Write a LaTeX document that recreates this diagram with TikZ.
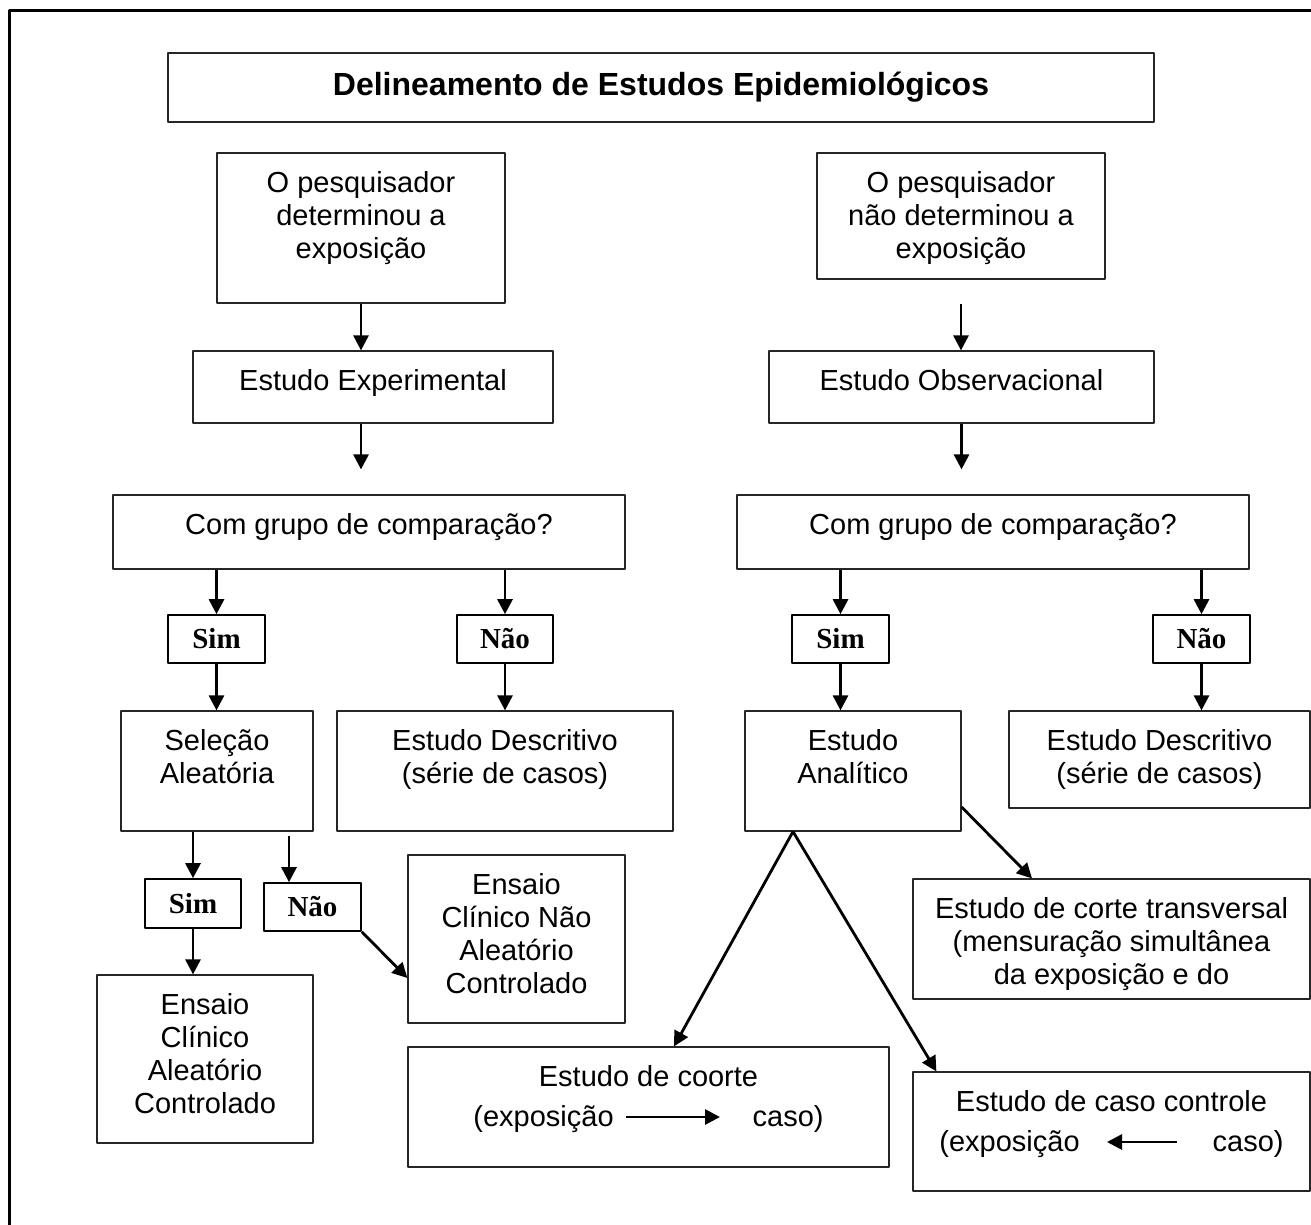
\documentclass[tikz,border=0pt]{standalone}
\usepackage{fontspec}
\setmainfont{Liberation Sans}
\newfontfamily\serifbf{Liberation Serif}
\usetikzlibrary{arrows.meta}
% text at the top of a box of fixed height
\newcommand{\toptext}[2]{\vbox to #1{\vskip 8pt\hbox{\begin{tabular}{@{}c@{}}#2\end{tabular}}\vfil}}
\begin{document}
\begin{tikzpicture}[x=0.5pt,y=-0.5pt,>={Triangle[length=7.5pt,width=7.5pt]},line join=round,
	box/.style={draw=black!85,line width=0.6pt,inner sep=0pt,font=\fontsize{14.5}{16.5}\selectfont},
	sz/.style 2 args={minimum width=#1*0.5pt,minimum height=#2*0.5pt},
	choice/.style={draw,line width=0.8pt,inner sep=0pt,font=\serifbf\bfseries\fontsize{14.5}{16.5}\selectfont},
	arr/.style={->,line width=1.4pt}]
		\useasboundingbox (0,0) rectangle (1311,1225);
		\draw[line width=1.5pt] (9,1225)--(9,11)--(1311,11);
		\node[box,sz={986}{69},font=\bfseries\fontsize{16}{19}\selectfont] (titulo) at (661,87.5) {Delineamento de Estudos Epidemiológicos};
		% left branch
		\node[box,sz={288}{150}] (detA) at (361,228) {\toptext{75pt}{O pesquisador\\determinou a\\exposição}};
		\node[box,sz={360}{72}] (expA) at (373,387) {\toptext{36pt}{Estudo Experimental}};
		\node[box,sz={512}{74}] (comA) at (369,532) {\toptext{37pt}{Com grupo de comparação?}};
		\node[choice,sz={97}{48}] (simA) at (216.5,639) {Sim};
		\node[choice,sz={96}{48}] (naoA) at (505,639) {Não};
		\node[box,sz={192}{120}] (selecao) at (217,771) {\toptext{60pt}{Seleção\\Aleatória}};
		\node[box,sz={336}{120}] (descA) at (505,771) {\toptext{60pt}{Estudo Descritivo\\(série de casos)}};
		\node[choice,sz={96}{49}] (simC) at (193,903.5) {Sim};
		\node[choice,sz={97}{48}] (naoC) at (312.5,907) {Não};
		\node[box,sz={216}{168}] (ensaioA) at (205,1059) {\toptext{84pt}{Ensaio\\Clínico\\Aleatório\\Controlado}};
		\node[box,sz={217}{168}] (ensaioB) at (516.5,939) {\toptext{84pt}{Ensaio\\Clínico Não\\Aleatório\\Controlado}};
		% right branch
		\node[box,sz={288}{126}] (detB) at (961,216) {\toptext{63pt}{O pesquisador\\não determinou a\\exposição}};
		\node[box,sz={385}{72}] (expB) at (961.5,387) {\toptext{36pt}{Estudo Observacional}};
		\node[box,sz={512}{74}] (comB) at (993,532) {\toptext{37pt}{Com grupo de comparação?}};
		\node[choice,sz={97}{48}] (simB) at (840.5,639) {Sim};
		\node[choice,sz={97}{48}] (naoB) at (1201.5,639) {Não};
		\node[box,sz={216}{120}] (analit) at (853,771) {\toptext{60pt}{Estudo\\Analítico}};
		\node[box,sz={301}{97}] (descB) at (1159.5,759.5) {\toptext{48.5pt}{Estudo Descritivo\\(série de casos)}};
		\node[box,sz={397}{120}] (corte) at (1111.5,939) {\toptext{60pt}{Estudo de corte transversal\\(mensuração simultânea\\da exposição e do}};
		\node[box,sz={481}{120}] (coorte) at (648.5,1107) {\toptext{60pt}{Estudo de coorte\\[3.5pt](exposição\hspace*{69.5pt}caso)}};
		\node[box,sz={397}{119}] (caso) at (1111.5,1131.5) {\toptext{59.5pt}{Estudo de caso controle\\[3.5pt](exposição\hspace*{66.5pt}caso)}};
		% arrows
		\draw[arr] (detA.south)--(detA.south |- expA.north);
		\draw[arr,shorten >=12.5pt] (detA.south |- expA.south)--(detA.south |- comA.north);
		\draw[arr,shorten <=12pt] (detB.south)--(detB.south |- expB.north);
		\draw[arr,shorten >=12.5pt] (expB.south)--(expB.south |- comB.north);
		\draw[arr] (simA.north |- comA.south)--(simA.north);
		\draw[arr] (naoA.north |- comA.south)--(naoA.north);
		\draw[arr] (simA.south)--(simA.south |- selecao.north);
		\draw[arr] (naoA.south)--(naoA.south |- descA.north);
		\draw[arr] (simB.north |- comB.south)--(simB.north);
		\draw[arr] (naoB.north |- comB.south)--(naoB.north);
		\draw[arr] (simB.south)--(simB.south |- analit.north);
		\draw[arr] (naoB.south)--(naoB.south |- descB.north);
		\draw[arr] (simC.north |- selecao.south)--(simC.north);
		\coordinate (naoCin) at ([xshift=-11.75pt]naoC.north);
		\draw[arr,shorten <=2pt] (naoCin |- selecao.south)--(naoCin);
		\draw[arr] (simC.south)--(simC.south |- ensaioA.north);
		\draw[arr] (naoC.south east)--([yshift=-19.5pt]ensaioB.west);
		\coordinate (apice) at ([xshift=-30pt]analit.south);
		\draw[arr] (apice)--([xshift=12.75pt]coorte.north);
		\draw[arr] (apice)--([xshift=12pt]caso.north west);
		\draw[arr] ([yshift=-18pt]analit.east)--([xshift=-39.75pt]corte.north);
		\draw[arr] ([xshift=-11.25pt,yshift=-5pt]coorte.center)--([xshift=35.75pt,yshift=-5pt]coorte.center);
		\draw[arr] ([xshift=32.75pt,yshift=-5.25pt]caso.center)--([xshift=-2.25pt,yshift=-5.25pt]caso.center);
\end{tikzpicture}
\end{document}
